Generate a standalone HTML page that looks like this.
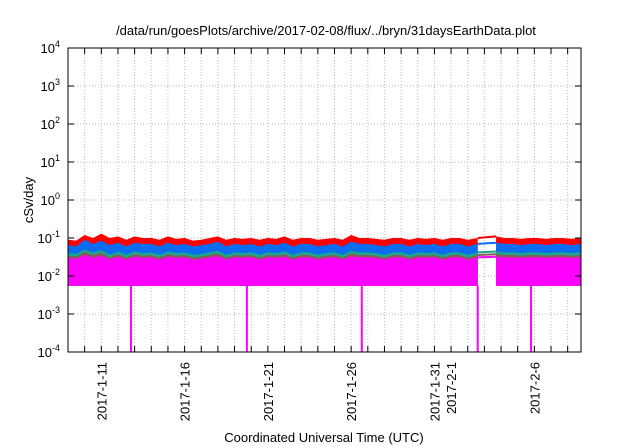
<!DOCTYPE html>
<html><head><meta charset="utf-8"><style>
body{margin:0;background:#fff}
svg{display:block;font-family:"Liberation Sans",sans-serif}
</style></head><body>
<svg id="c" width="640" height="448" viewBox="0 0 640 448">
<rect width="640" height="448" fill="#fff"/>
<text x="326" y="35" font-size="13" text-anchor="middle">/data/run/goesPlots/archive/2017-02-08/flux/../bryn/31daysEarthData.plot</text>
<text transform="translate(33,200) rotate(-90)" font-size="13" text-anchor="middle">cSv/day</text>
<text x="324" y="442" font-size="13" text-anchor="middle">Coordinated Universal Time (UTC)</text>
<g id="grid"></g><g id="series"></g><g id="axes"></g>
</svg>
<script>
const days=[0,0.5,1,1.5,2,2.5,3,3.5,4,4.5,5,5.5,6,6.5,7,7.5,8,8.5,9,9.5,10,10.5,11,11.5,12,12.5,13,13.5,14,14.5,15,15.5,16,16.5,17,17.5,18,18.5,19,19.5,20,20.5,21,21.5,22,22.5,23,23.5,24,24.6,25.7,26.2,26.7,27.2,27.7,28.2,28.7,29.2,29.7,30.2,30.8];
const gapAfter=49;
const red=[0.09,0.085,0.12,0.1,0.13,0.1,0.11,0.09,0.11,0.1,0.1,0.09,0.11,0.095,0.1,0.085,0.09,0.1,0.11,0.09,0.1,0.095,0.1,0.09,0.1,0.095,0.11,0.09,0.1,0.1,0.09,0.095,0.1,0.09,0.12,0.1,0.1,0.095,0.09,0.1,0.1,0.09,0.1,0.095,0.1,0.09,0.1,0.1,0.09,0.1,0.11,0.1,0.1,0.095,0.1,0.1,0.095,0.1,0.1,0.095,0.1];
const blue=[0.065,0.06,0.09,0.07,0.085,0.065,0.075,0.06,0.075,0.07,0.07,0.06,0.075,0.065,0.07,0.06,0.065,0.07,0.08,0.06,0.07,0.065,0.07,0.06,0.07,0.065,0.075,0.06,0.07,0.07,0.06,0.065,0.07,0.06,0.08,0.07,0.07,0.065,0.06,0.07,0.07,0.06,0.07,0.065,0.07,0.06,0.07,0.07,0.06,0.07,0.075,0.07,0.07,0.065,0.07,0.07,0.065,0.07,0.07,0.065,0.07];
const teal=[0.04,0.038,0.05,0.042,0.048,0.036,0.044,0.036,0.044,0.04,0.042,0.036,0.044,0.04,0.042,0.036,0.038,0.042,0.046,0.036,0.042,0.04,0.042,0.036,0.042,0.04,0.044,0.036,0.042,0.042,0.036,0.04,0.042,0.036,0.046,0.042,0.042,0.04,0.036,0.042,0.042,0.036,0.042,0.04,0.042,0.036,0.042,0.042,0.036,0.042,0.044,0.042,0.042,0.04,0.042,0.042,0.04,0.042,0.042,0.04,0.042];
const brown=teal.map(v=>v*0.85);
const magTop=[0.03,0.028,0.036,0.03,0.034,0.027,0.032,0.027,0.032,0.03,0.031,0.027,0.032,0.03,0.031,0.027,0.028,0.031,0.033,0.027,0.031,0.03,0.031,0.027,0.031,0.03,0.032,0.027,0.031,0.031,0.027,0.03,0.031,0.027,0.033,0.031,0.031,0.03,0.027,0.031,0.031,0.027,0.031,0.03,0.031,0.027,0.031,0.031,0.027,0.031,0.032,0.031,0.031,0.03,0.031,0.031,0.03,0.031,0.031,0.03,0.031];
const magBottom=0.0055;
const spikeDays=[3.78,10.74,17.64,24.6,27.8];
const yTickExps=[-4,-3,-2,-1,0,1,2,3,4];
const xLabels=[["2017-1-11",2],["2017-1-16",7],["2017-1-21",12],["2017-1-26",17],["2017-1-31",22],["2017-2-1",23],["2017-2-6",28]];
const X0=68,X1=581,Y0=48,Y1=352,DMAX=30.8;
const sx=d=>X0+d/DMAX*(X1-X0);
const sy=v=>Y1-(Math.log10(v)+4)/8*(Y1-Y0);
const NS="http://www.w3.org/2000/svg";
function mk(t,a,p){const e=document.createElementNS(NS,t);for(const k in a)e.setAttribute(k,a[k]);p.appendChild(e);return e;}
const grid=document.getElementById('grid'),ser=document.getElementById('series'),ax=document.getElementById('axes');
for(let d=1;d<DMAX;d++){const l=mk('line',{x1:sx(d),x2:sx(d),y1:Y0,y2:Y1,stroke:'#bbb','stroke-dasharray':'1,2','stroke-width':1},grid);


const t1=mk('line',{x1:sx(d),x2:sx(d),y1:Y1,y2:Y1-6,stroke:'#000'},ax);


const t2=mk('line',{x1:sx(d),x2:sx(d),y1:Y0,y2:Y0+6,stroke:'#000'},ax);

}
yTickExps.forEach(e=>{const y=sy(Math.pow(10,e));
if(e>-4&&e<4){const l=mk('line',{x1:X0,x2:X1,y1:y,y2:y,stroke:'#bbb','stroke-dasharray':'1,2'},grid);

}
const t=mk('text',{x:X0-8,y:y+5,'font-size':13,'text-anchor':'end'},ax);


t.textContent='10';const s=mk('tspan',{dy:-6,'font-size':9},t);s.textContent=String(e);
const k=mk('line',{x1:X0,x2:X0+6,y1:y,y2:y,stroke:'#000'},ax);


const k2=mk('line',{x1:X1,x2:X1-6,y1:y,y2:y,stroke:'#000'},ax);

});
xLabels.forEach(([s,d])=>{const t=mk('text',{transform:`translate(${sx(d)+5},${Y1+10}) rotate(-90)`,'font-size':13,'text-anchor':'end'},ax);


t.textContent=s;});
function area(arr,color,name){
[[0,gapAfter],[gapAfter+1,days.length-1]].forEach(([a,b])=>{let p='';
for(let i=a;i<=b;i++){p+=(i===a?'M':'L')+sx(days[i])+','+sy(arr[i]);}
p+='L'+sx(days[b])+','+sy(magBottom)+'L'+sx(days[a])+','+sy(magBottom)+'Z';
const e=mk('path',{d:p,fill:color},ser);

});
const g=mk('line',{x1:sx(days[gapAfter]),y1:sy(arr[gapAfter]),x2:sx(days[gapAfter+1]),y2:sy(arr[gapAfter+1]),stroke:color,'stroke-width':2},ser);

}
area(red,'#ff0000','series-red');
area(blue,'#0a6cf0','series-blue');
area(teal,'#1aa88c','series-teal');
area(brown,'#8a5a5a','series-brown');
area(magTop,'#ff00ff','series-magenta');
spikeDays.forEach(d=>{const e=mk('rect',{x:sx(d)-1,y:sy(magBottom),width:2,height:Y1-sy(magBottom),fill:'#ff00ff'},ser);

});
const f=mk('rect',{x:X0,y:Y0,width:X1-X0,height:Y1-Y0,fill:'none',stroke:'#000','stroke-width':1},ax);


</script>
</body></html>
